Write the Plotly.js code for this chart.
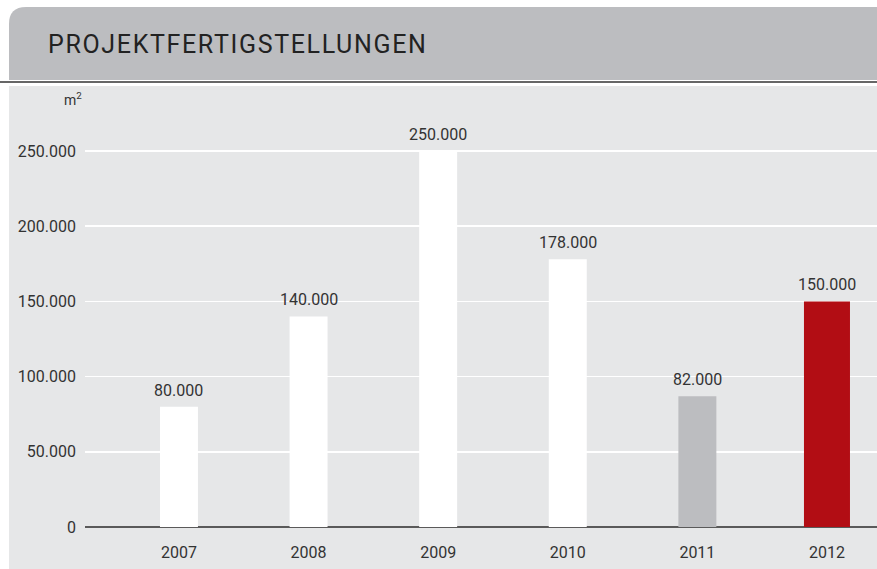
<!DOCTYPE html>
<html>
<head>
<meta charset="utf-8">
<script src="https://cdn.plot.ly/plotly-3.0.1.min.js"></script>
<style>
html,body{margin:0;padding:0;background:#fff;}
#chart{width:877px;height:569px;}
.gtitle{letter-spacing:1.65px;}
</style>
</head>
<body>
<div id="chart"></div>
<script>
// Data
const years = ["2007", "2008", "2009", "2010", "2011", "2012"];
const areaM2 = [80000, 140000, 250000, 178000, 87000, 150000];
const valueLabels = ["80.000", "140.000", "250.000", "178.000", "82.000", "150.000"];
const yTickVals = [0, 50000, 100000, 150000, 200000, 250000];
const barColors = ["#ffffff", "#ffffff", "#ffffff", "#ffffff", "#bcbdc0", "#b20d14"];
const barWidths = [0.293, 0.293, 0.293, 0.293, 0.293, 0.355];

const W = 877, H = 569;
const mL = 85, mR = 0, mT = 86, mB = 42;
const pw = W - mL - mR, ph = H - mT - mB;
const X = px => (px - mL) / pw;
const Y = py => (H - mB - py) / ph;

const FONT = "Roboto, 'Liberation Sans', Arial, sans-serif";

const headerPath =
  "M " + X(9) + "," + Y(80) +
  " L " + X(9) + "," + Y(24) +
  " Q " + X(9) + "," + Y(7) + " " + X(26) + "," + Y(7) +
  " L " + X(877) + "," + Y(7) +
  " L " + X(877) + "," + Y(80) + " Z";

const shapes = [
  {type: "rect", xref: "paper", yref: "paper", layer: "below",
   x0: X(9), x1: X(877), y0: Y(569), y1: Y(86),
   fillcolor: "#e6e7e8", line: {width: 0}},
  {type: "path", xref: "paper", yref: "paper", layer: "below",
   path: headerPath, fillcolor: "#bcbdc0", line: {width: 0}},
  {type: "line", xref: "paper", yref: "paper", layer: "below",
   x0: X(0), x1: X(877), y0: Y(82), y1: Y(82),
   line: {color: "#333333", width: 1.5}}
];

// category axis: annotations placed by category index
const annotations = years.map((yr, i) => ({
  x: i, y: areaM2[i], xref: "x", yref: "y",
  text: valueLabels[i], showarrow: false,
  xanchor: "center", yanchor: "bottom", yshift: 5,
  font: {family: FONT, size: 16, color: "#333333"}
}));
annotations.push({
  xref: "paper", yref: "paper", x: X(84), y: Y(99),
  xanchor: "right", yanchor: "middle", showarrow: false,
  text: "m<sup>2</sup>",
  font: {family: FONT, size: 14, color: "#333333"}
});

const trace = {
  type: "bar",
  x: years,
  y: areaM2,
  width: barWidths,
  marker: {color: barColors, line: {width: 0}},
  hoverinfo: "skip",
  cliponaxis: false
};

const layout = {
  width: W, height: H,
  margin: {l: mL, r: mR, t: mT, b: mB, pad: 0},
  paper_bgcolor: "#ffffff",
  plot_bgcolor: "rgba(0,0,0,0)",
  separators: ",.",
  showlegend: false,
  title: {
    text: "PROJEKTFERTIGSTELLUNGEN",
    x: 48 / W, xanchor: "left", xref: "container",
    y: 1 - 44 / H, yanchor: "middle", yref: "container",
    font: {family: FONT, size: 25, color: "#222222"}
  },
  xaxis: {
    type: "category",
    range: [-0.725, 5.386],
    showgrid: false, zeroline: false, showline: false,
    ticks: "",
    ticklabelstandoff: 14,
    tickfont: {family: FONT, size: 16, color: "#333333"},
    fixedrange: true
  },
  yaxis: {
    range: [0, 293200],
    tickvals: yTickVals,
    tickformat: ",d",
    showgrid: true, gridcolor: "#ffffff", gridwidth: 1.5,
    zeroline: true, zerolinecolor: "#5a5a5a", zerolinewidth: 2,
    showline: false, ticks: "",
    ticklabelstandoff: 8,
    tickfont: {family: FONT, size: 16, color: "#333333"},
    fixedrange: true
  },
  shapes: shapes,
  annotations: annotations
};

Plotly.newPlot("chart", [trace], layout, {displayModeBar: false, staticPlot: true});
</script>
</body>
</html>
